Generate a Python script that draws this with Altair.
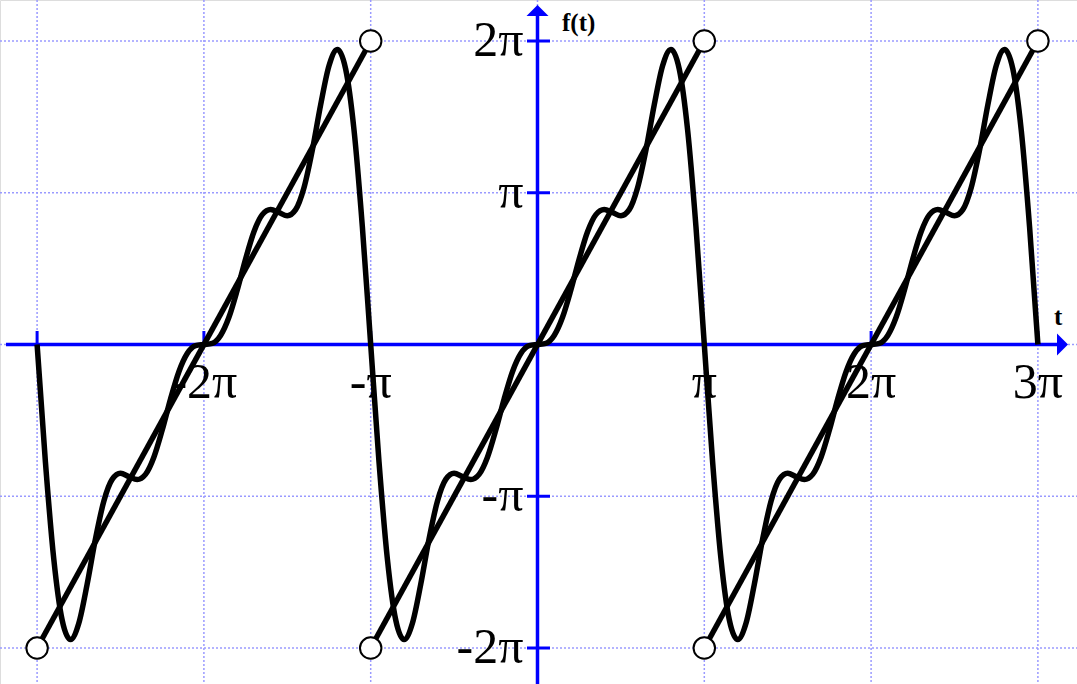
import altair as alt
import pandas as pd

# One period of the 4-term Fourier partial sum of f(t) = 2t on (-pi, pi).
# Both t and f(t) are in units of pi.
period_t = [-1.00, -0.95, -0.90, -0.85, -0.80, -0.75, -0.70, -0.65, -0.60, -0.55,
            -0.50, -0.45, -0.40, -0.35, -0.30, -0.25, -0.20, -0.15, -0.10, -0.05,
            0.00, 0.05, 0.10, 0.15, 0.20, 0.25, 0.30, 0.35, 0.40, 0.45,
            0.50, 0.55, 0.60, 0.65, 0.70, 0.75, 0.80, 0.85, 0.90, 0.95, 1.00]
period_y = [0.0, -0.7757, -1.4137, -1.8150, -1.9446, -1.8370, -1.5796, -1.2804, -1.0329, -0.8890,
            -0.8488, -0.8698, -0.8900, -0.8558, -0.7429, -0.5638, -0.3595, -0.1795, -0.0599, -0.0080,
            0.0, 0.0080, 0.0599, 0.1795, 0.3595, 0.5638, 0.7429, 0.8558, 0.8900, 0.8698,
            0.8488, 0.8890, 1.0329, 1.2804, 1.5796, 1.8370, 1.9446, 1.8150, 1.4137, 0.7757, 0.0]
period_centers = [-2, 0, 2]

# Sawtooth f(t): straight segments between open endpoints
saw_t = [-3, -1, -1, 1, 1, 3]
saw_y = [-2, 2, -2, 2, -2, 2]
saw_seg = [0, 0, 1, 1, 2, 2]

grid_x = [-3, -2, -1, 0, 1, 2, 3]
grid_y = [-2, -1, 0, 1, 2]
x_tick_vals = [-3, -2, -1, 1, 2, 3]
x_label_vals = [-2, -1, 1, 2, 3]
x_label_text = ["-2π", "-π", "π", "2π", "3π"]
y_tick_vals = [2, 1, -1, -2]
y_label_text = ["2π", "π", "-π", "-2π"]

W, H = 1077, 684
xs = alt.Scale(domain=[-3.2224, 3.2344], nice=False, zero=False)
ys = alt.Scale(domain=[-2.2372, 2.2702], nice=False, zero=False)

BLUE = "#0000ff"
GRID = "#9a9aff"
SERIF = "Liberation Serif"


def X(field):
    return alt.X(field, scale=xs, axis=None)


def Y(field):
    return alt.Y(field, scale=ys, axis=None)


curve_rows = []
for c in period_centers:
    for t, y in zip(period_t, period_y):
        curve_rows.append({"t": c + t, "y": y})
curve_df = pd.DataFrame(curve_rows).drop_duplicates(subset="t")

saw_df = pd.DataFrame({"t": saw_t, "y": saw_y, "seg": saw_seg})

grid_v = alt.Chart(pd.DataFrame({"t": grid_x})).mark_rule(
    color=GRID, strokeWidth=1.5, strokeDash=[2, 2]
).encode(x=X("t:Q"), y=alt.value(0), y2=alt.value(H))

grid_h = alt.Chart(pd.DataFrame({"y": grid_y})).mark_rule(
    color=GRID, strokeWidth=1.5, strokeDash=[2, 2]
).encode(y=Y("y:Q"), x=alt.value(0), x2=alt.value(W))

x_axis = alt.Chart(pd.DataFrame({"y": [0]})).mark_rule(
    color=BLUE, strokeWidth=3.5
).encode(y=Y("y:Q"), x=alt.value(6), x2=alt.value(1058))

y_axis = alt.Chart(pd.DataFrame({"t": [0]})).mark_rule(
    color=BLUE, strokeWidth=3.5
).encode(x=X("t:Q"), y=alt.value(15), y2=alt.value(H))

x_ticks = alt.Chart(pd.DataFrame({"t": x_tick_vals})).mark_rule(
    color=BLUE, strokeWidth=3
).encode(x=X("t:Q"), y=alt.value(331), y2=alt.value(345))

y_ticks = alt.Chart(pd.DataFrame({"y": y_tick_vals})).mark_rule(
    color=BLUE, strokeWidth=3
).encode(y=Y("y:Q"), x=alt.value(527), x2=alt.value(550))

arrow_up = alt.Chart(pd.DataFrame({"t": [0]})).mark_point(
    shape="M0,-1 L1,0 L-1,0 Z", size=484, filled=True, color=BLUE, opacity=1, strokeWidth=0
).encode(x=X("t:Q"), y=alt.value(16))

arrow_right = alt.Chart(pd.DataFrame({"y": [0]})).mark_point(
    shape="M1,0 L0,-1 L0,1 Z", size=484, filled=True, color=BLUE, opacity=1, strokeWidth=0
).encode(y=Y("y:Q"), x=alt.value(1057))

saw = alt.Chart(saw_df).mark_line(color="black", strokeWidth=5.5).encode(
    x=X("t:Q"), y=Y("y:Q"), detail="seg:N"
)

fourier = alt.Chart(curve_df).mark_line(
    color="black", strokeWidth=5.5, interpolate="monotone"
).encode(x=X("t:Q"), y=Y("y:Q"), order="t:Q")

ends = alt.Chart(saw_df).mark_point(
    shape="circle", size=460, filled=True, fill="white", stroke="black",
    strokeWidth=2, opacity=1
).encode(x=X("t:Q"), y=Y("y:Q"))

x_labels = alt.Chart(pd.DataFrame({"t": x_label_vals, "label": x_label_text})).mark_text(
    font=SERIF, fontSize=50, align="center", baseline="alphabetic", dy=53, color="black"
).encode(x=X("t:Q"), y=alt.datum(0, scale=ys, axis=None), text="label:N")

y_labels = alt.Chart(pd.DataFrame({"y": y_tick_vals, "label": y_label_text})).mark_text(
    font=SERIF, fontSize=50, align="right", baseline="middle", dx=-14, color="black"
).encode(y=Y("y:Q"), x=alt.datum(0, scale=xs, axis=None), text="label:N")

f_label = alt.Chart(pd.DataFrame({"s": ["f(t)"]})).mark_text(
    font=SERIF, fontSize=25, fontWeight="bold", align="left", baseline="alphabetic", color="black"
).encode(x=alt.value(562), y=alt.value(31), text="s:N")

t_label = alt.Chart(pd.DataFrame({"s": ["t"]})).mark_text(
    font=SERIF, fontSize=25, fontWeight="bold", align="left", baseline="alphabetic", color="black"
).encode(x=alt.value(1054), y=alt.value(325), text="s:N")

chart = alt.layer(
    grid_v, grid_h, x_axis, y_axis, x_ticks, y_ticks, arrow_up, arrow_right,
    x_labels, y_labels, f_label, t_label, saw, fourier, ends
).properties(
    width=W, height=H, autosize="none", padding=0
).configure_view(stroke=None).configure(background="white")

chart.save("out.html", embed_options={"renderer": "svg", "actions": False})
